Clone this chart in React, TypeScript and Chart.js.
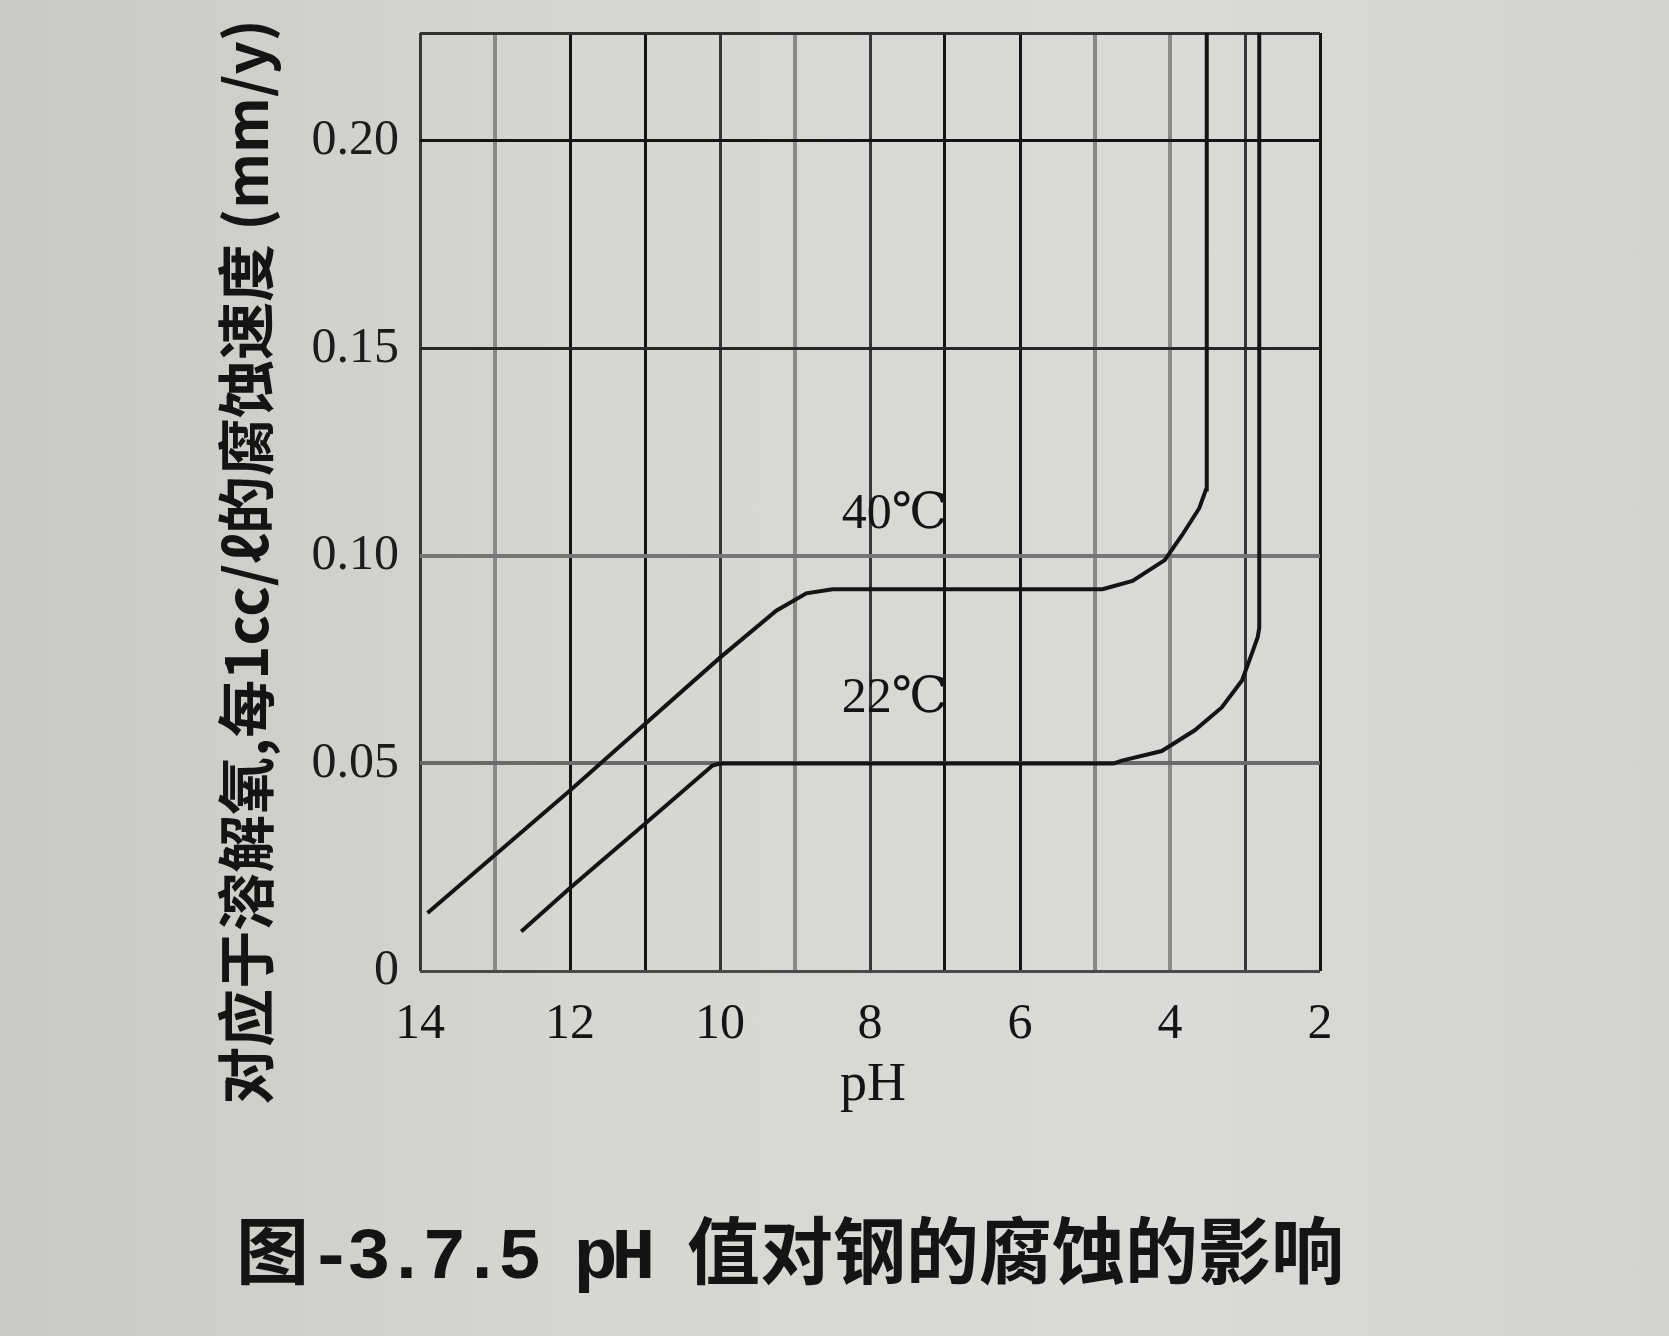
import React, { useEffect, useRef } from 'react';
import { Chart, registerables } from 'chart.js';

Chart.register(...registerables);

// ---- data ----
const phTicks = [14, 13, 12, 11, 10, 9, 8, 7, 6, 5, 4, 3, 2];
const phTickLabels = ['14', '', '12', '', '10', '', '8', '', '6', '', '4', '', '2'];
const rateTicks = [0, 0.05, 0.1, 0.15, 0.2];
const rateTickLabels = ['0', '0.05', '0.10', '0.15', '0.20'];
const rateMax = 0.226;

const ph40 = [13.9, 12.0, 11.0, 10.0, 9.25, 8.85, 8.5, 6.0, 4.9, 4.5, 4.07, 3.84, 3.61, 3.52, 3.51, 3.51];
const rate40 = [0.014, 0.0435, 0.0595, 0.0755, 0.0868, 0.091, 0.092, 0.092, 0.092, 0.094, 0.099, 0.105, 0.1115, 0.116, 0.119, 0.226];

const ph22 = [12.65, 12.0, 11.0, 10.1, 10.0, 6.0, 4.75, 4.64, 4.11, 3.67, 3.31, 3.04, 2.91, 2.83, 2.81, 2.81];
const rate22 = [0.0095, 0.02, 0.0355, 0.0495, 0.05, 0.05, 0.05, 0.0507, 0.053, 0.058, 0.0635, 0.07, 0.0764, 0.0805, 0.0827, 0.226];

const seriesNames = ['40℃', '22℃'];
const seriesLabelPH = [7.67, 7.67];
const seriesLabelRate = [0.11, 0.0656];

const xTitle = 'pH';
const yTitle = '对应于溶解氧,每1cc/ℓ的腐蚀速度 (mm/y)';
const captionHead = '图';
const captionCode = '-3.7.5 pH ';
const captionTail = '值对钢的腐蚀的影响';

// ---- styles ----
const DARK = '#141414';
const MID = '#363636';
const LIGHT = '#8a8a88';
const xGridTone: Record<number, string> = {
  14: MID, 13: LIGHT, 12: DARK, 11: DARK, 10: MID, 9: LIGHT, 8: MID,
  7: DARK, 6: DARK, 5: LIGHT, 4: LIGHT, 3: MID, 2: DARK,
};
const yGridTone = ['#4a4a4a', '#6a6a6a', '#767676', '#262626', DARK, '#303030'];

const overlayPlugin = {
  id: 'overlayText',
  afterDatasetsDraw(chart: any) {
    const { ctx, chartArea, scales } = chart;
    const x = scales.x;
    const y = scales.y;
    ctx.save();
    ctx.fillStyle = '#141414';
    ctx.textAlign = 'center';
    ctx.textBaseline = 'middle';
    ctx.font = "50px 'Liberation Serif', 'DejaVu Serif', 'Noto Sans CJK SC'";
    seriesNames.forEach((name, i) => {
      ctx.fillText(name, x.getPixelForValue(seriesLabelPH[i]), y.getPixelForValue(seriesLabelRate[i]));
    });
    // x title
    ctx.font = "54px 'Liberation Serif', serif";
    ctx.fillText(xTitle, (chartArea.left + chartArea.right) / 2 + 3, chartArea.bottom + 115);
    // y title
    ctx.translate(chartArea.left - 174, (chartArea.top + chartArea.bottom) / 2 + 60);
    ctx.rotate(-Math.PI / 2);
    ctx.font = "bold 58px 'Noto Sans CJK SC', 'Liberation Serif'";
    ctx.fillText(yTitle, 0, 0);
    ctx.restore();
  },
};

export default function App() {
  const canvasRef = useRef<HTMLCanvasElement | null>(null);

  useEffect(() => {
    const canvas = canvasRef.current;
    if (!canvas) return;
    const chart = new Chart(canvas, {
      type: 'scatter',
      data: {
        datasets: [
          {
            label: seriesNames[0],
            data: ph40.map((v, i) => ({ x: v, y: rate40[i] })),
            showLine: true,
            borderColor: '#141414',
            borderWidth: 4,
            pointRadius: 0,
            tension: 0,
            fill: false,
          },
          {
            label: seriesNames[1],
            data: ph22.map((v, i) => ({ x: v, y: rate22[i] })),
            showLine: true,
            borderColor: '#141414',
            borderWidth: 4,
            pointRadius: 0,
            tension: 0,
            fill: false,
          },
        ],
      },
      options: {
        animation: false,
        responsive: false,
        devicePixelRatio: 1,
        layout: { padding: { left: 0, top: 33, right: 349, bottom: 0 } },
        plugins: { legend: { display: false }, tooltip: { enabled: false }, title: { display: false } },
        scales: {
          x: {
            type: 'linear',
            reverse: true,
            min: 2,
            max: 14,
            afterBuildTicks: (scale: any) => {
              scale.ticks = phTicks.map((v) => ({ value: v }));
            },
            afterFit: (scale: any) => {
              scale.height = 365;
              scale.paddingLeft = 0;
              scale.paddingRight = 0;
            },
            ticks: {
              autoSkip: false,
              maxRotation: 0,
              padding: 24,
              color: '#141414',
              font: { family: "'Liberation Serif', serif", size: 50 },
              callback: (_v: any, i: number) => phTickLabels[i],
            },
            border: { display: false },
            grid: {
              drawTicks: false,
              color: (c: any) => xGridTone[c.tick?.value] ?? DARK,
              lineWidth: (c: any) => (xGridTone[c.tick?.value] === LIGHT ? 4 : 3),
            },
          },
          y: {
            type: 'linear',
            min: 0,
            max: rateMax,
            afterBuildTicks: (scale: any) => {
              scale.ticks = [...rateTicks, rateMax].map((v) => ({ value: v }));
            },
            afterFit: (scale: any) => {
              scale.width = 420;
              scale.paddingTop = 0;
              scale.paddingBottom = 0;
            },
            ticks: {
              autoSkip: false,
              padding: 21,
              color: '#1c1c1c',
              font: { family: "'Liberation Serif', serif", size: 50 },
              callback: (_v: any, i: number) => (i < rateTickLabels.length ? rateTickLabels[i] : ''),
            },
            border: { display: false },
            grid: {
              drawTicks: false,
              color: (c: any) => yGridTone[c.index] ?? DARK,
              lineWidth: (c: any) => (c.index === 1 || c.index === 2 ? 4 : 3),
            },
          },
        },
      },
      plugins: [overlayPlugin],
    } as any);
    return () => chart.destroy();
  }, []);

  return (
    <div
      style={{
        position: 'fixed',
        left: 0,
        top: 0,
        width: 1669,
        height: 1336,
        overflow: 'hidden',
        background: 'linear-gradient(90deg, #c9c9c6 0%, #d6d6d3 35%, #dadad8 70%, #d3d3d0 100%)',
      }}
    >
      <canvas ref={canvasRef} width={1669} height={1336} style={{ position: 'absolute', left: 0, top: 0 }} />
      <div
        style={{
          position: 'absolute',
          left: 236,
          top: 1210,
          fontSize: 73,
          lineHeight: '73px',
          fontWeight: 700,
          color: '#141414',
          whiteSpace: 'pre',
          fontFamily: "'Noto Sans CJK SC', sans-serif",
        }}
      >
        <span>{captionHead}</span>
        <span style={{ fontFamily: "'Liberation Mono', monospace", letterSpacing: -6 }}>{captionCode}</span>
        <span>{captionTail}</span>
      </div>
    </div>
  );
}
